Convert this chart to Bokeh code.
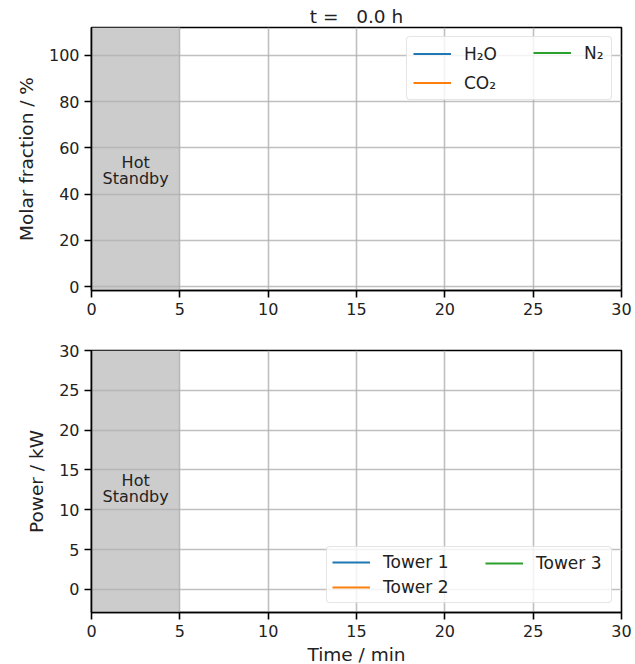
import numpy as np
from bokeh.plotting import figure
from bokeh.models import (Legend, LegendItem, Label, Range1d, FixedTicker,
                          BoxAnnotation, ColumnDataSource)
from bokeh.layouts import column
from bokeh.embed import file_html
from bokeh.resources import INLINE

# ---- data (snapshot at t = 0.0 h: nothing recorded yet -> NaN placeholders) ----
elapsed_h = 0.0
time_min = [0.0]
h2o_pct = [np.nan]
co2_pct = [np.nan]
n2_pct = [np.nan]
tower1_kw = [np.nan]
tower2_kw = [np.nan]
tower3_kw = [np.nan]

x_ticks = [0, 5, 10, 15, 20, 25, 30]
frac_ticks = [0, 20, 40, 60, 80, 100]
power_ticks = [0, 5, 10, 15, 20, 25, 30]
x_limits = [0, 30]
frac_limits = [-1.7, 112.1]
power_limits = [-2.9, 30]
standby_window = [0, 5]
standby_text_frac = 50
standby_text_power = 12.5

gas_labels = ["H\u2082O", "CO\u2082", "N\u2082"]
tower_labels = ["Tower 1", "Tower 2", "Tower 3"]
series_colors = ["#1f77b4", "#ff7f0e", "#2ca02c"]

FONT = "DejaVu Sans"
TXT = "#222222"


def base_fig(ylim, yticks, ylabel, frame_h, top, bottom):
    p = figure(frame_width=530, frame_height=frame_h,
               x_range=Range1d(*x_limits), y_range=Range1d(*ylim),
               output_backend="svg", toolbar_location=None,
               min_border_left=91, min_border_right=14,
               min_border_top=top, min_border_bottom=bottom)
    p.outline_line_color = "black"
    p.outline_line_width = 1.6
    p.background_fill_color = "white"
    p.border_fill_color = "white"
    for ax in (p.xaxis, p.yaxis):
        ax.axis_line_color = "black"
        ax.axis_line_width = 1.6
        ax.major_tick_line_color = "black"
        ax.major_tick_line_width = 1.6
        ax.major_tick_out = 7
        ax.major_tick_in = 0
        ax.minor_tick_line_color = None
        ax.major_label_text_font = FONT
        ax.major_label_text_font_size = "16px"
        ax.major_label_text_color = TXT
        ax.major_label_standoff = 5
        ax.axis_label_text_font = FONT
        ax.axis_label_text_font_size = "18.5px"
        ax.axis_label_text_font_style = "normal"
        ax.axis_label_text_color = TXT
        ax.axis_label_standoff = 9
    p.xaxis.ticker = FixedTicker(ticks=x_ticks)
    p.yaxis.ticker = FixedTicker(ticks=yticks)
    p.yaxis.axis_label = ylabel
    p.grid.grid_line_color = "#b0b0b0"
    p.grid.grid_line_alpha = 0.8
    p.grid.grid_line_width = 1.6
    p.grid.level = "glyph"
    box = BoxAnnotation(left=standby_window[0], right=standby_window[1],
                        fill_color="#cccccc", fill_alpha=1.0,
                        line_color=None, level="underlay")
    p.add_layout(box)
    return p


def standby_label(p, ymid):
    xm = (standby_window[0] + standby_window[1]) / 2
    for txt, off in (("Hot", 9), ("Standby", -7)):
        p.add_layout(Label(x=xm, y=ymid, y_offset=off, text=txt,
                           text_align="center", text_baseline="alphabetic",
                           text_font=FONT, text_font_size="16px",
                           text_color=TXT))


def legend_common(row_h, pad, gap):
    return dict(label_text_font=FONT, label_text_font_size="17px",
                label_text_color=TXT, glyph_width=38, glyph_height=row_h,
                label_standoff=13, label_height=row_h, spacing=gap,
                padding=pad, margin=9)


def add_legend(p, renderers, labels, location, lw_box, lw_col2, row_h, pad,
               gap, col2_location):
    # first column + the shared framed box
    leg1 = Legend(items=[LegendItem(label=labels[i], renderers=[renderers[i]])
                         for i in (0, 1)],
                  location=location, label_width=lw_box,
                  border_line_color="#cccccc", border_line_width=1,
                  border_radius=4, background_fill_color="white",
                  background_fill_alpha=0.8, **legend_common(row_h, pad, gap))
    # second column drawn on top of the same box (invisible frame keeps padding)
    leg2 = Legend(items=[LegendItem(label=labels[2], renderers=[renderers[2]])],
                  location=col2_location, label_width=lw_col2,
                  border_line_color="#cccccc", border_line_alpha=0.0,
                  background_fill_alpha=0.0,
                  **legend_common(row_h, pad, gap))
    p.add_layout(leg1)
    p.add_layout(leg2)


src = ColumnDataSource(dict(t=time_min, h2o=h2o_pct, co2=co2_pct, n2=n2_pct,
                            t1=tower1_kw, t2=tower2_kw, t3=tower3_kw))

# ---- top panel: gas composition ----
p1 = base_fig(frac_limits, frac_ticks, "Molar fraction / %", 263, 27, 40)
p1.title.text = "t =\u00a0\u00a0\u00a0%.1f h" % elapsed_h
p1.title.align = "center"
p1.title.text_font = FONT
p1.title.text_font_size = "18.5px"
p1.title.text_font_style = "normal"
p1.title.text_color = TXT
p1.title.standoff = 1
standby_label(p1, standby_text_frac)
r1 = [p1.line("t", k, source=src, line_color=c, line_width=2)
      for k, c in zip(["h2o", "co2", "n2"], series_colors)]
add_legend(p1, r1, gas_labels, "top_right", 141, 22, 21, 6, 8, "top_right")

# ---- bottom panel: power ----
p2 = base_fig(power_limits, power_ticks, "Power / kW", 262, 20, 52)
p2.xaxis.axis_label = "Time / min"
p2.xaxis.axis_label_standoff = 4
standby_label(p2, standby_text_power)
r2 = [p2.line("t", k, source=src, line_color=c, line_width=2)
      for k, c in zip(["t1", "t2", "t3"], series_colors)]
add_legend(p2, r2, tower_labels, "bottom_right", 223, 71, 20, 5, 5, (389, 34))

layout = column(p1, p2, spacing=0)
open("out.html", "w").write(file_html(layout, INLINE))
